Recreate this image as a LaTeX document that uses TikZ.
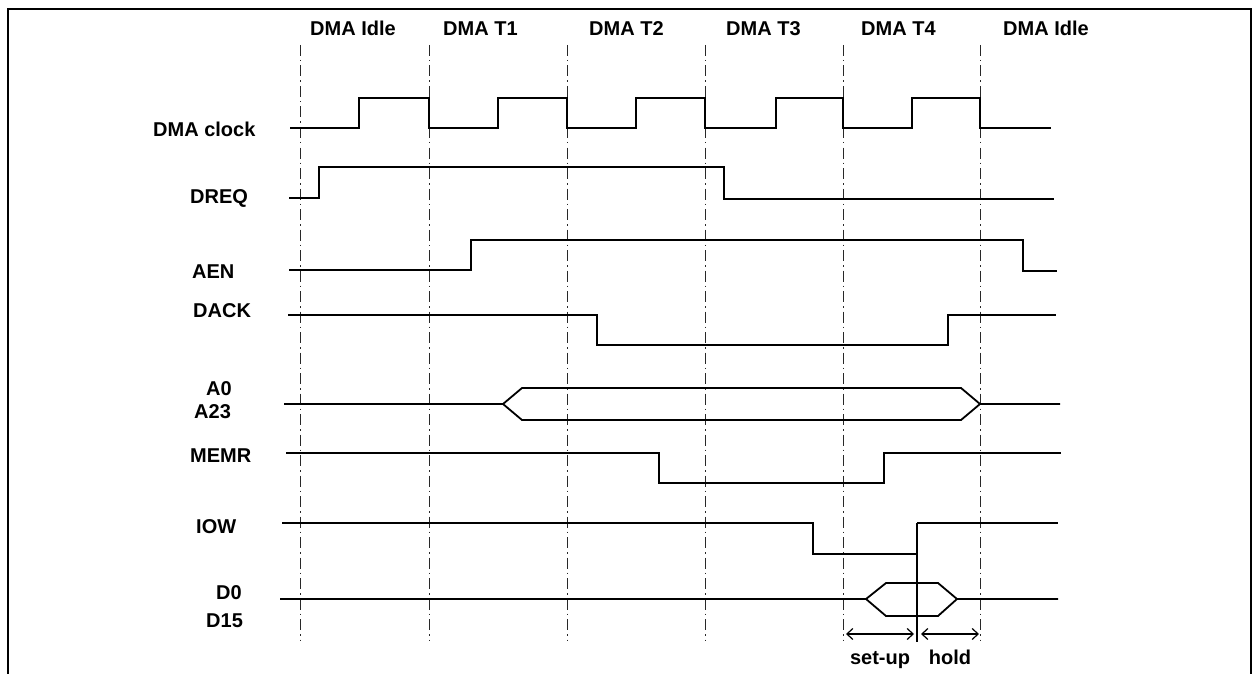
\documentclass[tikz,border=0pt]{standalone}
\usepackage{fontspec}
\setmainfont{Liberation Sans}
\usetikzlibrary{arrows.meta}
\definecolor{ink}{RGB}{0,0,0}
\definecolor{guideline}{RGB}{40,40,40}

\begin{document}
\begin{tikzpicture}[x=1pt, y=-1pt,
    wave/.style = {ink, line width=1.8pt, line join=miter},
    guide/.style = {guideline, line width=0.6pt, dash pattern=on 11pt off 4pt on 1.5pt off 4pt},
    lbl/.style = {ink, font=\fontsize{20}{23}\selectfont\bfseries, inner sep=0pt, anchor=base west},
    span/.style = {ink, line width=1.2pt, {Straight Barb[length=6pt,width=11pt]}-{Straight Barb[length=6pt,width=11pt]}}
    ]
    \useasboundingbox (0,0) rectangle (1255,674);
    \draw[ink, line width=1.8pt] (8,690) -- (8,9) -- (1251,9) -- (1251,690);
    \foreach \x in {300,429,567,705,843,980}
        \draw[guide] (\x,45) -- (\x,640);
    \node[lbl] (idle1) at (310,36) {DMA Idle};
    \node[lbl] (t1) at (443,36) {DMA T1};
    \node[lbl] (t2) at (589,36) {DMA T2};
    \node[lbl] (t3) at (726,36) {DMA T3};
    \node[lbl] (t4) at (861,36) {DMA T4};
    \node[lbl] (idle2) at (1003,36) {DMA Idle};
    \node[lbl] (clk) at (153,136) {DMA clock};
    \node[lbl] (dreq) at (190,203) {DREQ};
    \node[lbl] (aen) at (192,278) {AEN};
    \node[lbl] (dack) at (193,317) {DACK};
    \node[lbl] (a0) at (206,395) {A0};
    \node[lbl] (a23) at (194,418) {A23};
    \node[lbl] (memr) at (190,462) {MEMR};
    \node[lbl] (iow) at (196,533) {IOW};
    \node[lbl] (d0) at (216,599) {D0};
    \node[lbl] (d15) at (206,627) {D15};
    \draw[wave] (290,128) -| (359,98) -| (429,128) -| (498,98) -| (567,128) -| (636,98)
        -| (705,128) -| (776,98) -| (843,128) -| (912,98) -| (980,128) -- (1051,128);
    \draw[wave] (289,198) -| (319,167) -| (724,199) -- (1054,199);
    \draw[wave] (289,270) -| (471,240) -| (1023,271) -- (1057,271);
    \draw[wave] (288,315) -| (597,345) -| (948,315) -- (1056,315);
    \draw[wave] (284,404) -- (503,404) -- (522,388) -- (961,388) -- (980,404) -- (1060,404);
    \draw[wave] (503,404) -- (522,420) -- (961,420) -- (980,404);
    \draw[wave] (286,453) -| (659,483) -| (884,453) -- (1061,453);
    \draw[wave] (282,523) -| (813,554) -- (917,554);
    \draw[wave] (917,523) -- (1058,523);
    \draw[wave] (280,599) -- (866,599) -- (886,583) -- (938,583) -- (957,599) -- (1058,599);
    \draw[wave] (866,599) -- (886,616) -- (938,616) -- (957,599);
    \draw[ink, line width=2.2pt] (917,523) -- (917,642);
    \coordinate (su0) at (846,634);
    \coordinate (su1) at (914,634);
    \coordinate (ho0) at (921,634);
    \coordinate (ho1) at (979,634);
    \draw[span] (su0) -- (su1);
    \draw[span] (ho0) -- (ho1);
    \node[lbl, anchor=base] (setup) at (880,664) {set-up};
    \node[lbl, anchor=base] (hold) at (950,664) {hold};
\end{tikzpicture}
\end{document}
